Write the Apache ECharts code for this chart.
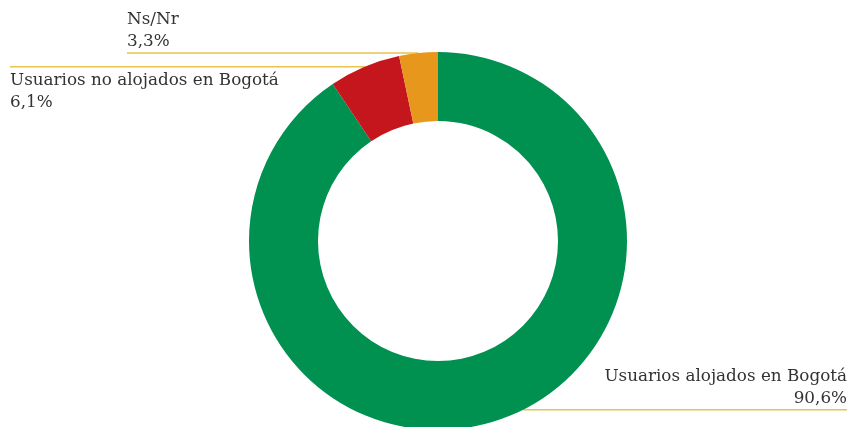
<!DOCTYPE html>
<html>
<head>
<meta charset="utf-8">
<script src="https://cdn.jsdelivr.net/npm/echarts@6/dist/echarts.min.js"></script>
<style>
  html, body { margin: 0; background: #fff; }
  #main { width: 853px; height: 427px; }
</style>
</head>
<body>
<div id="main"></div>
<script>
const categories = ['Usuarios alojados en Bogotá', 'Usuarios no alojados en Bogotá', 'Ns/Nr'];
const shares = [90.6, 6.1, 3.3];
const colors = ['#009150', '#c4161c', '#e8971d'];

// donut geometry
const CX = 438, CY = 241, R_IN = 120, R_OUT = 189;
// label tweaks: gap to canvas edge, text above or below its line, how far to lift the line
const labelEdge = [6, 10, 127];
const textAbove = [true, false, true];
const lineLift = [12, 0, 0];

const chart = echarts.init(document.getElementById('main'));

chart.setOption({
  animation: false,
  series: [{
    type: 'pie',
    center: [CX, CY],
    radius: [R_IN, R_OUT],
    startAngle: 90,
    clockwise: true,
    avoidLabelOverlap: false,
    emphasis: { disabled: true },
    itemStyle: { borderWidth: 0 },
    label: {
      alignTo: 'edge',
      fontFamily: 'DejaVu Serif',
      fontSize: 16.8,
      lineHeight: 22,
      color: '#333333',
      formatter: p => p.name + '\n' + String(p.value).replace('.', ',') + '%'
    },
    labelLine: {
      show: true,
      length: 0,
      length2: 10,
      lineStyle: { color: '#e6c54f', width: 1.5 }
    },
    labelLayout: params => {
      const i = params.dataIndex;
      const pts = params.labelLinePoints;
      const r = params.labelRect;
      const isLeft = r.x + r.width / 2 < CX;
      const y = pts[0][1] - lineLift[i];
      let x0 = pts[0][0];
      if (lineLift[i]) {
        const dy = y - CY;
        x0 = CX + (isLeft ? -1 : 1) * Math.sqrt(R_OUT * R_OUT - dy * dy);
      }
      const x1 = isLeft ? r.x : r.x + r.width;
      return {
        y: textAbove[i] ? y : y + 3,
        verticalAlign: textAbove[i] ? 'bottom' : 'top',
        labelLinePoints: [[x0, y], [x0, y], [x1, y]]
      };
    },
    data: categories.map((name, i) => ({
      name: name,
      value: shares[i],
      itemStyle: { color: colors[i] },
      label: { edgeDistance: labelEdge[i] }
    }))
  }]
});

window.addEventListener('resize', chart.resize);
</script>
</body>
</html>
